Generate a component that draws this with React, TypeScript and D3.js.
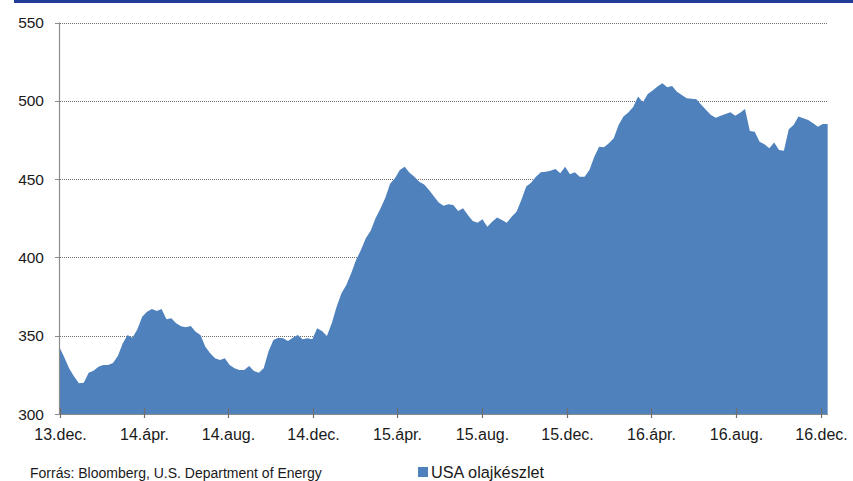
import React from "react";
import * as d3 from "d3";

// Weekly US crude oil inventories (million barrels), starting at early Dec 2013
const startDate = "2013-12-01";
const stockValues: number[] = [
  342.6, 336, 329, 324, 319.6, 320, 326.4, 327.6, 330.2, 331.3,
  331.3, 332.5, 337, 345, 350.4, 348.7, 354, 362.1, 365.3, 367,
  365.8, 367, 360.5, 361.1, 357.9, 356, 355.4, 356.2, 352.5, 350.4,
  343, 338.8, 335.6, 334.5, 335.6, 331.3, 329.2, 328.1, 328.1, 330.7,
  327.5, 326.4, 329.2, 340, 347.3, 348.7, 348.3, 346.6, 348.7, 350.4,
  347.7, 348.3, 347.7, 354.7, 353, 349.8, 357.9, 368.5, 377.1, 382.4,
  389.8, 398.3, 404.7, 412.2, 417, 425, 431, 438, 447, 450.5,
  455.8, 457.9, 454.1, 451.5, 448.3, 446.5, 443, 439, 435, 433,
  433.9, 433.5, 429.6, 431.4, 427.1, 423.2, 422.2, 424.3, 419.6, 422.8,
  425.4, 423.9, 422.2, 426, 429.2, 436.7, 445.2, 447.7, 451.5, 454.3,
  454.7, 455.4, 456.4, 453.7, 457.9, 453.1, 454.3, 451.5, 451.5, 455.8,
  464.3, 470.7, 470.3, 472.9, 476.1, 484.6, 489.9, 492.5, 496, 502.7,
  499.1, 504.4, 506.5, 509.1, 511.2, 508.6, 509.5, 505.8, 503.7, 501.6,
  501.3, 501, 497.4, 494.2, 491, 489.2, 490.5, 491.6, 492.7, 490.5,
  492.4, 494.8, 480.7, 480.3, 473.9, 472.3, 469.7, 473.3, 468.6, 468.1,
  481.8, 484.6, 489.9, 488.8, 487.7, 485.6, 483.5, 485.2, 485.2,
];

const tickDates = [
  "2013-12-01", "2014-04-01", "2014-08-01", "2014-12-01", "2015-04-01",
  "2015-08-01", "2015-12-01", "2016-04-01", "2016-08-01", "2016-12-01",
];
const tickLabels = [
  "13.dec.", "14.ápr.", "14.aug.", "14.dec.", "15.ápr.",
  "15.aug.", "15.dec.", "16.ápr.", "16.aug.", "16.dec.",
];
const yTicks = [300, 350, 400, 450, 500, 550];

const seriesName = "USA olajkészlet";
const sourceText = "Forrás: Bloomberg, U.S. Department of Energy";

const W = 853;
const H = 481;
const FONT = "'Liberation Sans', Arial, sans-serif";
const AREA = "#4f81bd";

export default function App() {
  const parse = d3.utcParse("%Y-%m-%d");
  const start = parse(startDate)!;
  const data = stockValues.map((v, i) => ({
    date: d3.utcDay.offset(start, i * 7),
    value: v,
  }));

  const x = d3
    .scaleUtc()
    .domain([parse(tickDates[0])!, parse(tickDates[tickDates.length - 1])!])
    .range([59.5, 820.7]);
  const y = d3.scaleLinear().domain([300, 550]).range([414, 22.5]);

  const plotRight = 828;

  const area = d3
    .area<{ date: Date; value: number }>()
    .x((d) => x(d.date))
    .y0(y(300))
    .y1((d) => y(d.value));

  return (
    <div style={{ position: "absolute", left: 0, top: 0 }}>
      <svg width={W} height={H} style={{ display: "block", background: "#fff" }}>
        <rect x={14} y={0} width={W - 14} height={3} fill="#1f3d96" />
        {yTicks
          .filter((t) => t > 300)
          .map((t) => (
            <line
              key={"g" + t}
              x1={60}
              x2={plotRight}
              y1={Math.round(y(t)) + 0.5}
              y2={Math.round(y(t)) + 0.5}
              stroke="#6e6e6e"
              strokeWidth={1}
              strokeDasharray="1 1"
            />
          ))}
        <path d={area(data) || ""} fill={AREA} />
        <line x1={59.5} x2={59.5} y1={y(550)} y2={y(300)} stroke="#8c8c8c" strokeWidth={1.2} />
        {yTicks.map((t) => (
          <g key={"y" + t}>
            <line x1={55} x2={60} y1={Math.round(y(t)) + 0.5} y2={Math.round(y(t)) + 0.5} stroke="#8c8c8c" />
            <text
              x={44}
              y={y(t) + 5.5}
              textAnchor="end"
              fontFamily={FONT}
              fontSize={15.5}
              fill="#1a1a1a"
            >
              {t}
            </text>
          </g>
        ))}
        <line x1={59.5} x2={plotRight} y1={414.5} y2={414.5} stroke="#8c8c8c" strokeWidth={1.2} />
        {tickDates.map((d, i) => {
          const xx = Math.round(x(parse(d)!)) + 0.5;
          return (
            <g key={"x" + d}>
              <line x1={xx} x2={xx} y1={408} y2={418} stroke="#6e6e6e" strokeWidth={1.2} />
              <text
                x={xx}
                y={440}
                textAnchor="middle"
                fontFamily={FONT}
                fontSize={16}
                fill="#1a1a1a"
              >
                {tickLabels[i]}
              </text>
            </g>
          );
        })}
        <text x={30} y={478} fontFamily={FONT} fontSize={14} fill="#1a1a1a">
          {sourceText}
        </text>
        <rect x={418} y={467} width={10} height={10} fill={AREA} />
        <text x={431} y={478} fontFamily={FONT} fontSize={16.3} fill="#1a1a1a">
          {seriesName}
        </text>
      </svg>
    </div>
  );
}
